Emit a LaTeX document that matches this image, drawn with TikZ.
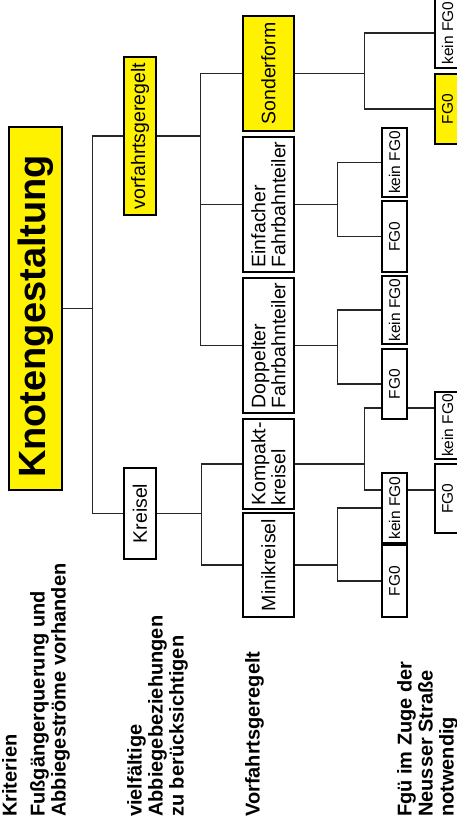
\documentclass[tikz,border=0pt]{standalone}
\usepackage{fontspec}
\setmainfont{Liberation Sans}
\usetikzlibrary{calc,backgrounds}

\begin{document}
\begin{tikzpicture}[x=1pt, y=-1pt, rotate=90, transform shape,
      box/.style={draw, line width=1.4pt, fill=white, inner sep=1pt, align=center,
        font=\fontsize{19.5}{20}\selectfont},
      hl/.style={fill=yellow},
      lvl/.style={box, minimum height=51pt},
      fg/.style={box, minimum height=25pt, font=\fontsize{15.5}{16}\selectfont},
      conn/.style={line width=1.4pt, black!85},
      crit/.style={anchor=north west, align=left, inner sep=0pt,
        font=\bfseries\fontsize{20}{21}\selectfont}
    ]
    \useasboundingbox (0,0) rectangle (823,457);

    % Kriterien links
    \node[crit] (kri) at (6,2) {Kriterien};
    \node[crit] (crit1) at (6,30) {Fußgängerquerung und\\Abbiegeströme vorhanden};
    \node[crit] (crit2) at (6,127) {vielfältige\\Abbiegebeziehungen\\zu berücksichtigen};
    \node[crit] (crit3) at (6,245) {Vorfahrtsgeregelt};
    \node[crit] (crit4) at (6,397) {Fgü im Zuge der\\Neusser Straße\\notwendig};

    % Baum
    \node[box, hl, minimum width=363pt, minimum height=53pt,
      font=\bfseries\fontsize{38}{40}\selectfont] (knot) at (514.5,35.5) {Knotengestaltung\hspace{16pt}};

    \node[box, hl, minimum width=158pt, minimum height=32pt] (vorf) at (687,140) {vorfahrtsgeregelt};
    \node[box, minimum width=91pt, minimum height=32pt] (kreisel) at (309.5,140) {Kreisel};

    \node[lvl, hl, minimum width=115pt] (son) at (749.5,268.5) {Sonderform};
    \node[lvl, align=left, minimum width=135pt] (einf) at (618.5,268.5) {Einfacher\\Fahrbahnteiler};
    \node[lvl, align=left, minimum width=135pt] (dopp) at (477.5,268.5) {Doppelter\\Fahrbahnteiler};
    \node[lvl, align=left, minimum width=90pt] (komp) at (359,268.5) {Kompakt-\\kreisel};
    \node[lvl, minimum width=104pt] (mini) at (258,268.5) {Minikreisel};

    \node[fg, minimum width=69pt] (einfk) at (660.5,394.5) {kein FG0};
    \node[fg, minimum width=71pt] (einff) at (586.5,394.5) {FG0};
    \node[fg, minimum width=68pt] (doppk) at (513,394.5) {kein FG0};
    \node[fg, minimum width=70pt] (doppf) at (439,394.5) {FG0};
    \node[fg, minimum width=70pt] (minik) at (315,394.5) {kein FG0};
    \node[fg, minimum width=72pt] (minif) at (242,394.5) {FG0};

    \node[fg, minimum width=70pt] (sonk) at (790,447.5) {kein FG0};
    \node[fg, hl, minimum width=70pt] (sonf) at (714,447.5) {FG0};
    \node[fg, minimum width=67pt] (kompk) at (397.5,447.5) {kein FG0};
    \node[fg, minimum width=69pt] (kompf) at (324.5,447.5) {FG0};

    \begin{pgfonlayer}{background}
      \draw[conn] (knot.south) -- ++(0,30) coordinate (j0);
      \draw[conn] (vorf.north) |- (j0) -| (kreisel.north);

      \draw[conn] (vorf.south) -- ++(0,44) coordinate (j1);
      \draw[conn] (son.north) |- (j1) -| (dopp.north);
      \draw[conn] (j1) -| (einf.north);

      \draw[conn] (kreisel.south) -- ++(0,45) coordinate (j2);
      \draw[conn] (komp.north) |- (j2) -| (mini.north);

      \draw[conn] (son.south) -- ++(0,70) coordinate (js);
      \draw[conn] (sonk.north) |- (js) -| (sonf.north);

      \draw[conn] (einf.south) -- ++(0,43) coordinate (je);
      \draw[conn] (einfk.north) |- (je) -| (einff.north);

      \draw[conn] (dopp.south) -- ++(0,43) coordinate (jd);
      \draw[conn] (doppk.north) |- (jd) -| (doppf.north);

      \draw[conn] (komp.south) -- ++(0,70) coordinate (jk);
      \draw[conn] ($(kompk.north)+(17.5,0)$) |- (jk) -| ($(kompf.north)+(8.5,0)$);

      \draw[conn] (mini.south) -- ++(0,43) coordinate (jm);
      \draw[conn] (minik.north) |- (jm) -| (minif.north);
    \end{pgfonlayer}
  \end{tikzpicture}
\end{document}
